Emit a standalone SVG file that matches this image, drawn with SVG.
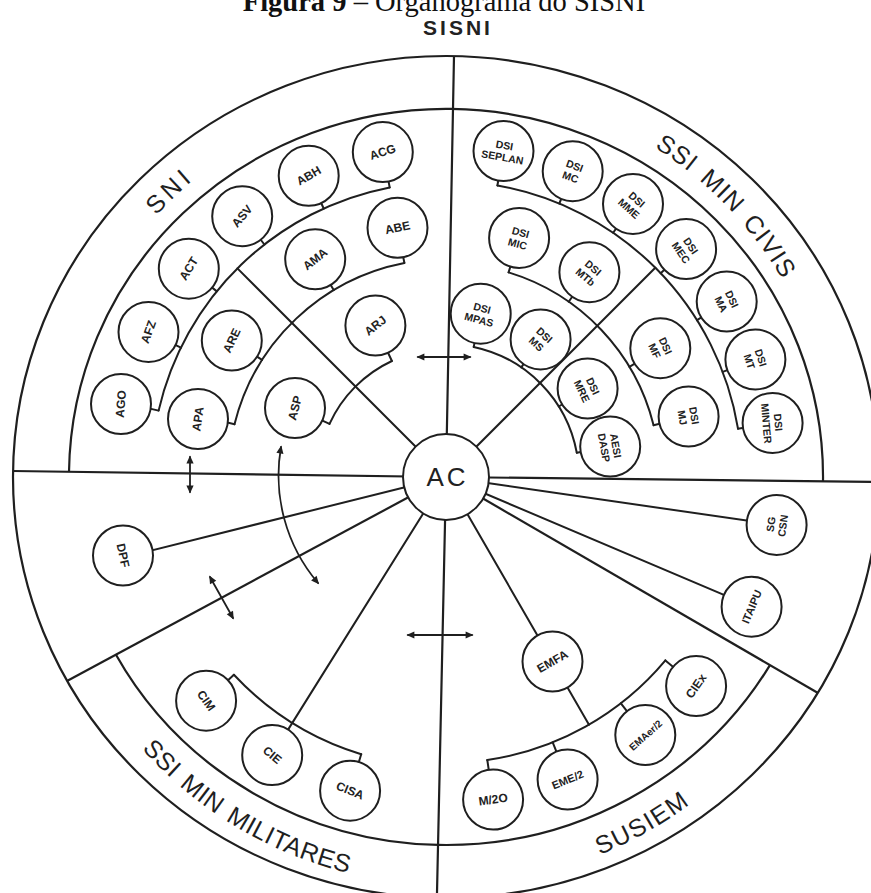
<svg xmlns="http://www.w3.org/2000/svg" width="871" height="893" viewBox="0 0 871 893">
<style>
.ln{fill:none;stroke:#1f1f1f;stroke-width:2;stroke-linecap:round}
.fr{fill:none;stroke:#1f1f1f;stroke-width:2.2}
.nd circle{fill:#fff;stroke:#1f1f1f;stroke-width:2}
.nd text{font-family:"Liberation Sans",Arial,sans-serif;font-size:12px;font-weight:bold;fill:#222;text-anchor:middle}
.nd text.two{font-size:10.5px}
.bl{font-family:"Liberation Sans",Arial,sans-serif;font-size:25px;fill:#1f1f1f;text-anchor:middle}
.ar{fill:none;stroke:#1f1f1f;stroke-width:1.8;marker-start:url(#ah);marker-end:url(#ah)}
</style>
<defs>
<marker id="ah" viewBox="0 0 10 10" refX="8" refY="5" markerWidth="10" markerHeight="8" markerUnits="userSpaceOnUse" orient="auto-start-reverse"><path d="M0,0.5 L10,5 L0,9.5 z" fill="#1f1f1f"/></marker>
<path id="pSNI" d="M71.1 369.5 A390 390 0 0 1 351.7 98.6"/>
<path id="pCIV" d="M553.5 102.1 A390 390 0 0 1 824.4 382.7"/>
<path id="pMIL" d="M89.2 674.8 A408 408 0 0 0 438.9 884.9"/>
<path id="pSUS" d="M446 885 A408 408 0 0 0 795.7 687.1"/>
</defs>
<rect width="871" height="893" fill="#fff"/>

<g id="title">
<text x="444" y="11" font-family="Liberation Serif, serif" font-size="28.5" text-anchor="middle" fill="#111"><tspan font-weight="bold">Figura 9</tspan> – Organograma do SISNI</text>
<text x="458" y="34.5" font-family="Liberation Sans, Arial, sans-serif" font-size="21" font-weight="bold" letter-spacing="3" text-anchor="middle" fill="#222">SISNI</text>
</g>

<g id="frame">
<ellipse class="fr" cx="446" cy="477" rx="433" ry="421"/>
<path class="fr" d="M69 472 A377 368 0 0 1 823 481.5"/>
<path class="fr" d="M115.7 654.3 A377 368 0 0 0 438 844.9"/>
<path class="fr" d="M438 844.9 A377 368 0 0 0 770.1 664.9"/>
<path class="fr" d="M13 471 L446 477 L879 482"/>
<path class="fr" d="M454 56 L446 477 L437 893"/>
<path class="fr" d="M446 477 L67 681"/>
<path class="fr" d="M446 477 L818 693"/>
</g>

<g id="band-labels">
<text class="bl" letter-spacing="4"><textPath href="#pSNI" startOffset="50%">SNI</textPath></text>
<text class="bl" letter-spacing="1" word-spacing="4"><textPath href="#pCIV" startOffset="50%">SSI MIN CIVIS</textPath></text>
<text class="bl" letter-spacing="0.5" word-spacing="3"><textPath href="#pMIL" startOffset="50%">SSI MIN MILITARES</textPath></text>
<text class="bl" letter-spacing="1.5"><textPath href="#pSUS" startOffset="50%">SUSIEM</textPath></text>
</g>

<g id="connectors" class="ln">
<path d="M446 477 L237.4 268.4"/>
<path d="M446 477 L655.3 267.7"/>
<path d="M446 477 L292.3 722.9"/>
<path d="M446 477 L552.5 661.5"/>
<path d="M552.5 661.5 L589 724.7"/>
<path d="M446 477 L776.6 524.9"/>
<path d="M446 477 L751.6 606.7"/>
<path d="M446 477 L122.9 557.6"/>
<path d="M389.7 187.4 A295 295 0 0 0 158.6 410.6"/>
<path d="M389.7 187.4 L382.8 152.1 M323.7 208.5 L308.7 175.8 M264.4 244.5 L242.2 216.2 M216.8 291.4 L188.8 268.7 M180.9 347.7 L148.5 331.9 M158.6 410.6 L123.5 402.5"/>
<path d="M404.4 263 A218 218 0 0 0 234.5 424.3"/>
<path d="M404.4 263 L397.5 227.7 M333.7 290.1 L315.2 259.3 M262.1 359.9 L231.8 340.5 M234.5 424.3 L199.5 415.6"/>
<path d="M391.9 361 A128 128 0 0 0 329.5 423.9"/>
<path d="M391.9 361 L375.4 325.6 M329.5 423.9 L294 407.7"/>
<path d="M497.4 185.5 A296 296 0 0 1 738 428.7"/>
<path d="M497.4 185.5 L503.5 151 M559.3 203.5 L572.7 171.2 M613.2 232.8 L633 203.9 M660.7 273.2 L686.1 249.1 M697 320.1 L726.7 301.6 M722.7 371.9 L755.4 359.5 M738 428.7 L772.6 422.9"/>
<path d="M508.6 272.4 A214 214 0 0 1 653.6 425.2"/>
<path d="M508.6 272.4 L519.1 237.9 M568.7 301.7 L589.4 272.2 M629.4 366.8 L660.3 348.2 M653.6 425.2 L688.6 416.5"/>
<path d="M473.7 346.9 A133 133 0 0 1 576.8 452.8"/>
<path d="M473.7 346.9 L480.7 313.7 M521.3 367.4 L540.6 339.4 M558.8 406.5 L587.6 388.5 M576.8 452.8 L610.2 446.6"/>
<path d="M233.9 674.8 A290 290 0 0 0 361.2 754.3"/>
<path d="M233.9 674.8 L206.1 700.7 M292.3 722.9 L272.2 755.1 M361.2 754.3 L350.1 790.7"/>
<path d="M487.3 760 A286 286 0 0 0 665.4 660.4"/>
<path d="M487.3 760 L493.1 799.6 M552.7 742.4 L567.6 779.5 M620.9 703.3 L645.3 734.9 M665.4 660.4 L696.1 686.1"/>
<path class="ar" d="M418 357 L470 357"/>
<path class="ar" d="M190 457 L190 492"/>
<path class="ar" d="M281 447 A166 166 0 0 0 318 583"/>
<path class="ar" d="M210 577 L233 618"/>
<path class="ar" d="M408 635 L472 635"/>
</g>

<g id="n-ac" class="nd" transform="translate(446 477)"><circle r="43"/><text x="1.5" y="9" style="font-size:26px;font-weight:normal;letter-spacing:3px">AC</text></g>

<g id="n-acg" class="nd" transform="translate(382.8 152.1)"><circle r="30"/><text y="4" transform="rotate(-18)">ACG</text></g>
<g id="n-abh" class="nd" transform="translate(308.7 175.8)"><circle r="30"/><text y="4" transform="rotate(-30)">ABH</text></g>
<g id="n-asv" class="nd" transform="translate(242.2 216.2)"><circle r="30"/><text y="4" transform="rotate(-50)">ASV</text></g>
<g id="n-act" class="nd" transform="translate(188.8 268.7)"><circle r="30"/><text y="4" transform="rotate(-58)">ACT</text></g>
<g id="n-afz" class="nd" transform="translate(148.5 331.9)"><circle r="30"/><text y="4" transform="rotate(-70)">AFZ</text></g>
<g id="n-ago" class="nd" transform="translate(121 404)"><circle r="30"/><text y="4" transform="rotate(-85)">AGO</text></g>
<g id="n-abe" class="nd" transform="translate(397.5 227.7)"><circle r="30"/><text y="4" transform="rotate(-12)">ABE</text></g>
<g id="n-ama" class="nd" transform="translate(315.2 259.3)"><circle r="30"/><text y="4" transform="rotate(-38)">AMA</text></g>
<g id="n-are" class="nd" transform="translate(231.8 340.5)"><circle r="30"/><text y="4" transform="rotate(-65)">ARE</text></g>
<g id="n-apa" class="nd" transform="translate(198 419)"><circle r="30"/><text y="4" transform="rotate(-82)">APA</text></g>
<g id="n-arj" class="nd" transform="translate(375.4 325.6)"><circle r="30"/><text y="4" transform="rotate(-38)">ARJ</text></g>
<g id="n-asp" class="nd" transform="translate(295 408)"><circle r="30"/><text y="4" transform="rotate(-75)">ASP</text></g>

<g id="n-dsi-seplan" class="nd" transform="translate(503.5 151)"><circle r="30"/><text class="two" transform="rotate(10)"><tspan x="0" y="-2">DSI</tspan><tspan x="0" y="10">SEPLAN</tspan></text></g>
<g id="n-dsi-mc" class="nd" transform="translate(572.7 171.2)"><circle r="30"/><text class="two" transform="rotate(20)"><tspan x="0" y="-2">DSI</tspan><tspan x="0" y="10">MC</tspan></text></g>
<g id="n-dsi-mme" class="nd" transform="translate(633 203.9)"><circle r="30"/><text class="two" transform="rotate(42)"><tspan x="0" y="-2">DSI</tspan><tspan x="0" y="10">MME</tspan></text></g>
<g id="n-dsi-mec" class="nd" transform="translate(686.1 249.1)"><circle r="30"/><text class="two" transform="rotate(55)"><tspan x="0" y="-2">DSI</tspan><tspan x="0" y="10">MEC</tspan></text></g>
<g id="n-dsi-ma" class="nd" transform="translate(726.7 301.6)"><circle r="30"/><text class="two" transform="rotate(65)"><tspan x="0" y="-2">DSI</tspan><tspan x="0" y="10">MA</tspan></text></g>
<g id="n-dsi-mt" class="nd" transform="translate(755.4 359.5)"><circle r="30"/><text class="two" transform="rotate(72)"><tspan x="0" y="-2">DSI</tspan><tspan x="0" y="10">MT</tspan></text></g>
<g id="n-dsi-minter" class="nd" transform="translate(772.6 422.9)"><circle r="30"/><text class="two" transform="rotate(85)"><tspan x="0" y="-2">DSI</tspan><tspan x="0" y="10">MINTER</tspan></text></g>
<g id="n-dsi-mic" class="nd" transform="translate(519.1 237.9)"><circle r="30"/><text class="two" transform="rotate(15)"><tspan x="0" y="-2">DSI</tspan><tspan x="0" y="10">MIC</tspan></text></g>
<g id="n-dsi-mtb" class="nd" transform="translate(589.4 272.2)"><circle r="30"/><text class="two" transform="rotate(40)"><tspan x="0" y="-2">DSI</tspan><tspan x="0" y="10">MTb</tspan></text></g>
<g id="n-dsi-mf" class="nd" transform="translate(660.3 348.2)"><circle r="30"/><text class="two" transform="rotate(65)"><tspan x="0" y="-2">DSI</tspan><tspan x="0" y="10">MF</tspan></text></g>
<g id="n-dsi-mj" class="nd" transform="translate(688.6 416.5)"><circle r="30"/><text class="two" transform="rotate(80)"><tspan x="0" y="-2">DSI</tspan><tspan x="0" y="10">MJ</tspan></text></g>
<g id="n-dsi-mpas" class="nd" transform="translate(480.7 313.7)"><circle r="30"/><text class="two" transform="rotate(15)"><tspan x="0" y="-2">DSI</tspan><tspan x="0" y="10">MPAS</tspan></text></g>
<g id="n-dsi-ms" class="nd" transform="translate(540.6 339.4)"><circle r="30"/><text class="two" transform="rotate(42)"><tspan x="0" y="-2">DSI</tspan><tspan x="0" y="10">MS</tspan></text></g>
<g id="n-dsi-mre" class="nd" transform="translate(587.6 388.5)"><circle r="30"/><text class="two" transform="rotate(65)"><tspan x="0" y="-2">DSI</tspan><tspan x="0" y="10">MRE</tspan></text></g>
<g id="n-aesi-dasp" class="nd" transform="translate(610.2 446.6)"><circle r="30"/><text class="two" transform="rotate(80)"><tspan x="0" y="-2">AESI</tspan><tspan x="0" y="10">DASP</tspan></text></g>

<g id="n-cim" class="nd" transform="translate(206.1 700.7)"><circle r="30"/><text y="4" transform="rotate(55)">CIM</text></g>
<g id="n-cie" class="nd" transform="translate(272.2 755.1)"><circle r="30"/><text y="4" transform="rotate(40)">CIE</text></g>
<g id="n-cisa" class="nd" transform="translate(350.1 790.7)"><circle r="30"/><text y="4" transform="rotate(22)">CISA</text></g>
<g id="n-dpf" class="nd" transform="translate(123 555.5)"><circle r="30"/><text y="4" transform="rotate(78)">DPF</text></g>

<g id="n-emfa" class="nd" transform="translate(552.5 661.5)"><circle r="30"/><text y="4" transform="rotate(-30)">EMFA</text></g>
<g id="n-m2o" class="nd" transform="translate(493.1 799.6)"><circle r="30"/><text y="4" transform="rotate(-8)">M/2O</text></g>
<g id="n-eme2" class="nd" transform="translate(567.6 779.5)"><circle r="30"/><text y="4" transform="rotate(-22)" style="font-size:11px">EME/2</text></g>
<g id="n-emaer2" class="nd" transform="translate(645.3 734.9)"><circle r="30"/><text y="4" transform="rotate(-42)" style="font-size:10px">EMAer/2</text></g>
<g id="n-ciex" class="nd" transform="translate(696.1 686.1)"><circle r="30"/><text y="4" transform="rotate(-55)">CIEx</text></g>
<g id="n-sg-csn" class="nd" transform="translate(776.6 524.9)"><circle r="30"/><text class="two" transform="rotate(-82)"><tspan x="0" y="-2">SG</tspan><tspan x="0" y="10">CSN</tspan></text></g>
<g id="n-itaipu" class="nd" transform="translate(751.6 606.7)"><circle r="30"/><text y="4" transform="rotate(-67)" style="font-size:11px">ITAIPU</text></g>
</svg>
